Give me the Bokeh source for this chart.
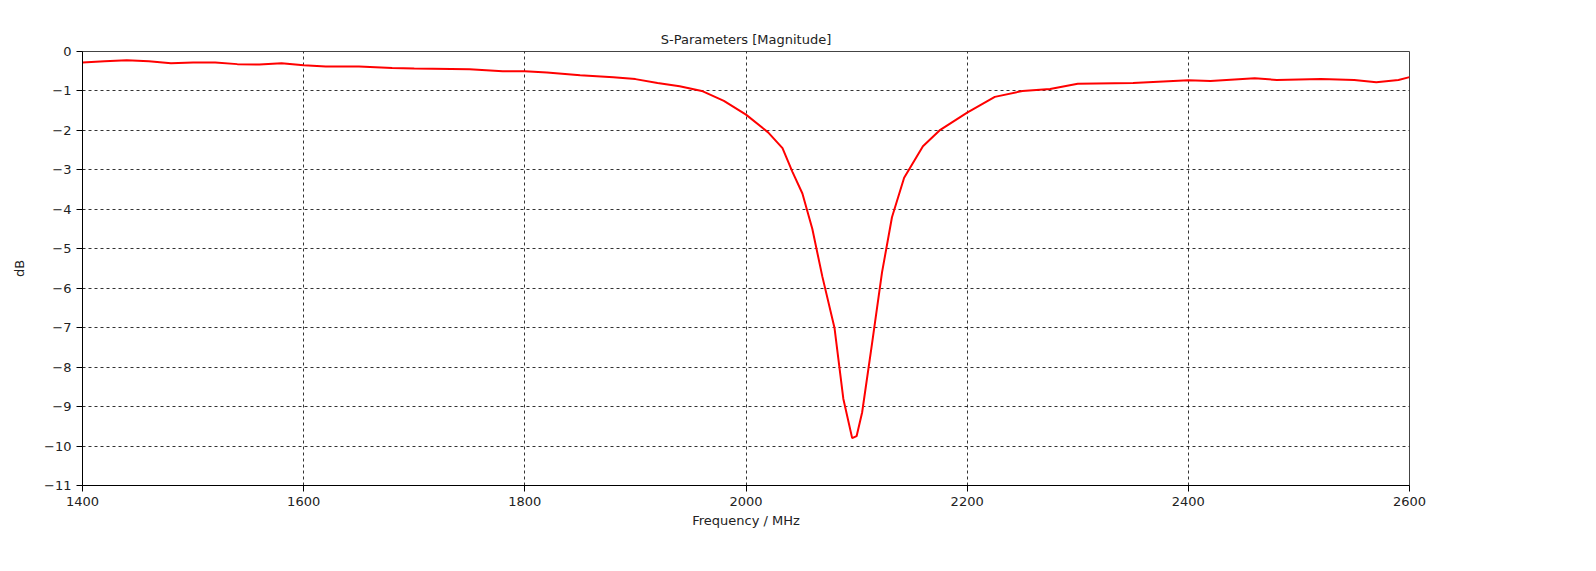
from bokeh.plotting import figure
from bokeh.models import Legend, LegendItem, FixedTicker
from bokeh.embed import file_html
from bokeh.resources import INLINE

freq = [1400, 1420, 1440, 1460, 1480, 1500, 1520, 1540, 1560, 1580, 1600, 1620, 1650,
        1680, 1700, 1750, 1780, 1800, 1820, 1850, 1880, 1900, 1920, 1940, 1960, 1980,
        2000, 2020, 2033, 2042, 2051, 2060, 2069, 2080, 2088, 2096, 2100, 2105, 2114,
        2123, 2132, 2143, 2160, 2175, 2200, 2225, 2250, 2275, 2300, 2350, 2400, 2420,
        2460, 2480, 2520, 2550, 2570, 2590, 2600]
s11 = [-0.28, -0.25, -0.22, -0.25, -0.3, -0.28, -0.28, -0.32, -0.33, -0.3, -0.35, -0.38, -0.38,
       -0.42, -0.43, -0.45, -0.5, -0.5, -0.53, -0.6, -0.65, -0.7, -0.8, -0.88, -1.0, -1.25,
       -1.6, -2.05, -2.45, -3.05, -3.6, -4.5, -5.7, -7.0, -8.8, -9.8, -9.75, -9.15, -7.4,
       -5.6, -4.2, -3.2, -2.4, -2.0, -1.55, -1.15, -1.0, -0.95, -0.82, -0.8, -0.73, -0.75,
       -0.68, -0.72, -0.7, -0.72, -0.78, -0.72, -0.65]
x_ticks = [1400, 1600, 1800, 2000, 2200, 2400, 2600]
y_ticks = list(range(-11, 1))

FONT = "DejaVu Sans"

p = figure(width=1578, height=553, output_backend="svg", toolbar_location=None,
           x_range=(1400, 2600), y_range=(-11, 0),
           title="S-Parameters [Magnitude]",
           x_axis_label="Frequency / MHz", y_axis_label="dB",
           min_border_left=82, min_border_right=169, min_border_top=51, min_border_bottom=68)
p.title.align = "center"
p.title.text_font = FONT
p.title.text_font_size = "13px"
p.title.text_font_style = "normal"
p.title.text_color = "#222222"

for ax in (p.xaxis, p.yaxis):
    ax.axis_label_text_font = FONT
    ax.axis_label_text_font_size = "13px"
    ax.axis_label_text_font_style = "normal"
    ax.axis_label_text_color = "#222222"
    ax.major_label_text_font = FONT
    ax.major_label_text_font_size = "13px"
    ax.major_label_text_color = "#222222"
    ax.axis_line_color = "black"
    ax.major_tick_line_color = "black"
    ax.minor_tick_line_color = None
    ax.major_tick_in = 0
    ax.major_tick_out = 6
p.xaxis.ticker = FixedTicker(ticks=x_ticks)
p.yaxis.ticker = FixedTicker(ticks=y_ticks)
p.xaxis.axis_label_standoff = 4
p.yaxis.axis_label_standoff = 14

p.grid.grid_line_color = "black"
p.grid.grid_line_dash = "3 3"
p.grid.grid_line_alpha = 0.8
p.outline_line_color = "#444444"

r = p.line(freq, s11, line_color="red", line_width=2)

legend = Legend(items=[LegendItem(label="S1,1", renderers=[r])], location=(1372, 410),
                border_line_color=None, background_fill_alpha=0, padding=0, margin=0,
                glyph_width=45, label_standoff=10, label_text_color="red",
                label_text_font=FONT, label_text_font_size="13px")
p.add_layout(legend, "center")

open("out.html", "w").write(file_html(p, INLINE))
